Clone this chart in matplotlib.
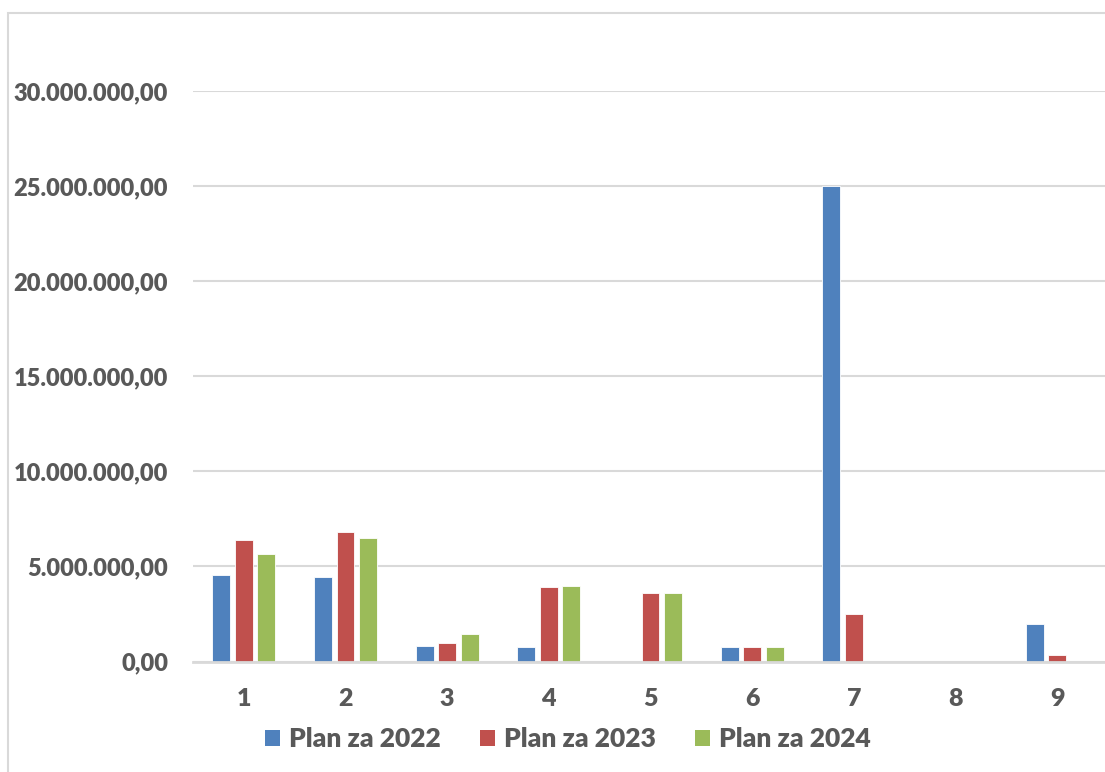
import matplotlib; matplotlib.use('agg')
import matplotlib.pyplot as plt
from matplotlib.patches import Patch, Rectangle
import numpy as np

# podaci ocitani sa slike
kategorije = ['1', '2', '3', '4', '5', '6', '7', '8', '9']
plan_2022 = [4560000, 4460000, 790000, 750000, 0, 780000, 25000000, 0, 1970000]
plan_2023 = [6410000, 6790000, 950000, 3910000, 3580000, 780000, 2480000, 0, 320000]
plan_2024 = [5670000, 6470000, 1420000, 3950000, 3580000, 780000, 0, 0, 0]
serije = ['Plan za 2022', 'Plan za 2023', 'Plan za 2024']
boje = ['#4f81bd', '#c0504d', '#9bbb59']
y_ticks = [0, 5000000, 10000000, 15000000, 20000000, 25000000, 30000000]

plt.rcParams['font.family'] = ['Lato', 'DejaVu Sans']
plt.rcParams['font.weight'] = 'bold'
siva = '#595959'

W, H = 1105, 772
fig = plt.figure(figsize=(W / 100, H / 100), dpi=100)
ax = fig.add_axes([193 / W, (H - 661.5) / H, (1108 - 193) / W, (661.5 - 91) / H])

x = np.arange(1, len(kategorije) + 1)
sirina = 0.177
korak = 0.222
for i, (vals, boja) in enumerate(zip([plan_2022, plan_2023, plan_2024], boje)):
    ax.bar(x + (i - 1) * korak, vals, sirina, color=boja, edgecolor='white', linewidth=0.6, zorder=3)

ax.set_xlim(0.5, 9.5)
ax.set_ylim(0, 30000000)
ax.set_yticks(y_ticks)
ax.set_yticklabels(['{:,.2f}'.format(v).replace(',', 'X').replace('.', ',').replace('X', '.') for v in y_ticks])
ax.set_xticks(x)
ax.set_xticklabels(kategorije)
ax.tick_params(axis='y', length=0, pad=18, labelsize=17, labelcolor=siva)
ax.tick_params(axis='x', length=0, pad=19, labelsize=18, labelcolor=siva)
for lbl in ax.get_xticklabels() + ax.get_yticklabels():
    lbl.set_fontweight('heavy')

ax.grid(axis='y', color='#d9d9d9', linewidth=1.5, zorder=0)
for s in ['top', 'right', 'left']:
    ax.spines[s].set_visible(False)
ax.spines['bottom'].set_color('#d9d9d9')
ax.spines['bottom'].set_linewidth(2)
ax.spines['bottom'].set_zorder(4)

handles = [Patch(facecolor=b, edgecolor='none') for b in boje]
leg = fig.legend(handles, serije, loc='center', bbox_to_anchor=(568 / W, 1 - 739 / H),
                 ncol=3, frameon=False, fontsize=19, handlelength=0.55, handleheight=0.55,
                 handletextpad=0.35, columnspacing=1.5)
for t in leg.get_texts():
    t.set_color(siva)
    t.set_fontweight('heavy')

# okvir grafikona
fig.patches.append(Rectangle((8 / W, -0.1), 1.2, 1 - 13 / H + 0.1, transform=fig.transFigure,
                             fill=False, edgecolor='#d9d9d9', linewidth=1.5))

plt.savefig('out.png', dpi=100)
